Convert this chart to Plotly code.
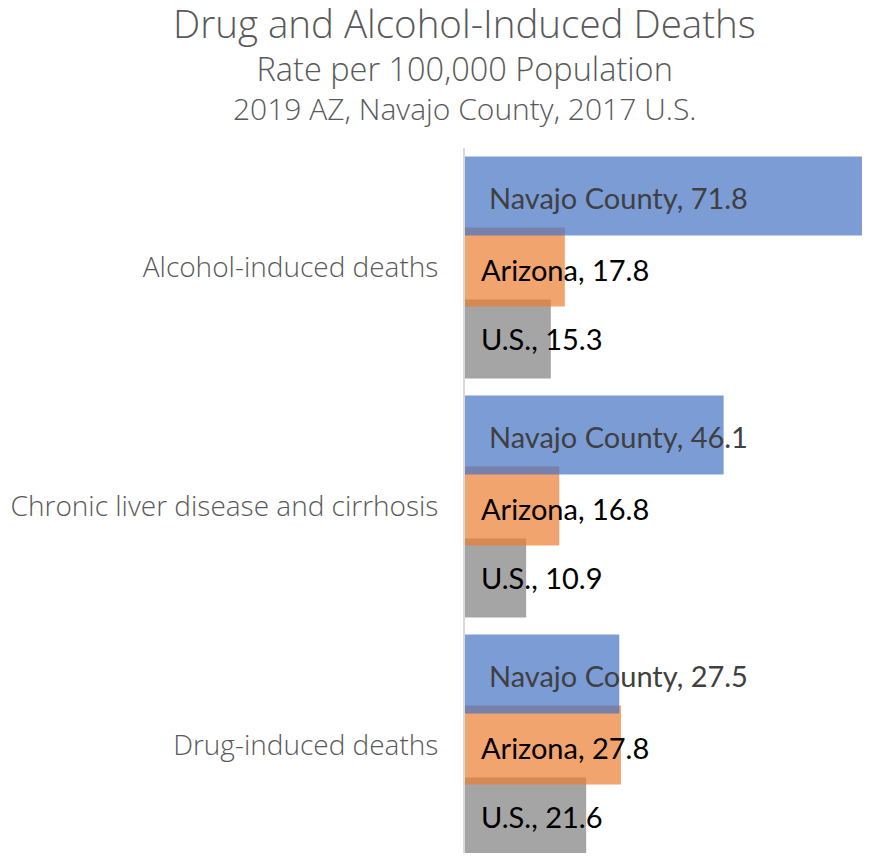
import plotly.graph_objects as go

categories = ["Alcohol-induced deaths", "Chronic liver disease and cirrhosis", "Drug-induced deaths"]
series_names = ["Navajo County", "Arizona", "U.S."]
navajo = [71.8, 46.1, 27.5]
arizona = [17.8, 16.8, 27.8]
us = [15.3, 10.9, 21.6]

title_text = "Drug and Alcohol-Induced Deaths"
subtitle_lines = ["Rate per 100,000 Population", "2019 AZ, Navajo County, 2017 U.S."]

values = {"Navajo County": navajo, "Arizona": arizona, "U.S.": us}
colors = {"Navajo County": "rgba(68,114,196,0.7)", "Arizona": "rgba(237,125,49,0.7)", "U.S.": "rgba(127,127,127,0.7)"}
offsets = {"Navajo County": -0.464, "Arizona": -0.167, "U.S.": 0.134}
label_colors = {"Navajo County": "#404040", "Arizona": "#000000", "U.S.": "#000000"}
label_xshift = {"Navajo County": 22, "Arizona": 14, "U.S.": 14}
label_yshift = {"Navajo County": -1, "Arizona": -2, "U.S.": 0}
bar_w = 0.33

# page body has an 8px margin; figure coordinates are screen - 8
W, H = 854, 845
L, T = 457, 140
PW, PH = W - L, 705
PX_PER_CAT = 239.0
PX_PER_UNIT = 5.61

fig = go.Figure()
for name in ["U.S.", "Arizona", "Navajo County"]:
    fig.add_trace(go.Bar(
        y=categories, x=values[name], orientation="h", name=name,
        marker=dict(color=colors[name], line=dict(width=0)),
        width=bar_w, offset=offsets[name], showlegend=False,
    ))

annotations = []
for name in series_names:
    for idx, (cat, v) in enumerate(zip(categories, values[name])):
        annotations.append(dict(
            x=0, y=idx + offsets[name] + bar_w / 2, xref="x", yref="y",
            text=f"{name}, {v}", showarrow=False, xanchor="left", yanchor="middle",
            xshift=label_xshift[name], yshift=label_yshift[name],
            font=dict(family="Lato", size=29, color=label_colors[name]),
        ))

cx = (456 - L) / PW
annotations.append(dict(
    x=cx, y=1 + (T - (23 - 8)) / PH, xref="paper", yref="paper",
    text=title_text, showarrow=False, xanchor="center", yanchor="middle",
    font=dict(family="Open Sans", size=38.5, color="#595959", weight=300),
))
annotations.append(dict(
    x=cx, y=1 + (T - (87 - 8)) / PH, xref="paper", yref="paper",
    text=f"<span style='font-size:32.5px'>{subtitle_lines[0]}</span><br>{subtitle_lines[1]}",
    showarrow=False, xanchor="center", yanchor="middle", align="center",
    font=dict(family="Open Sans", size=30, color="#595959", weight=300),
))

fig.update_layout(
    width=W, height=H,
    margin=dict(l=L, r=W - L - PW, t=T, b=H - T - PH, pad=0, autoexpand=False),
    paper_bgcolor="white", plot_bgcolor="white",
    barmode="overlay",
    annotations=annotations,
    xaxis=dict(range=[0, PW / PX_PER_UNIT], visible=False, showgrid=False,
               zeroline=False, fixedrange=True, automargin=False),
    yaxis=dict(
        type="category", categoryorder="array", categoryarray=categories,
        range=[-0.5 + PH / PX_PER_CAT, -0.5], showgrid=False, zeroline=False,
        showline=True, linecolor="#d9d9d9", linewidth=2, automargin=False,
        ticks="", ticklabelstandoff=19,
        tickfont=dict(family="Open Sans", size=28, color="#595959", weight=300),
    ),
)

fig.write_html("out.html")
